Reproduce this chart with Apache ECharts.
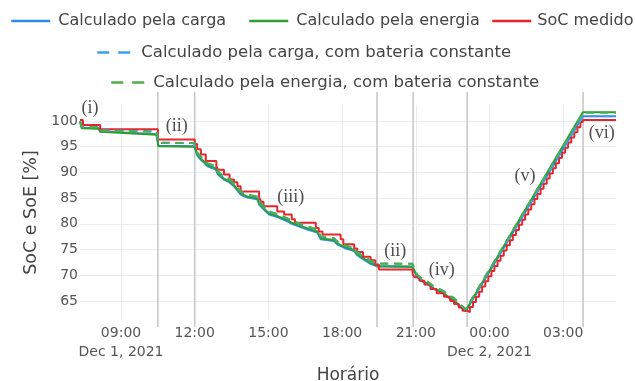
<!DOCTYPE html>
<html><head><meta charset="utf-8">
<script src="https://cdn.jsdelivr.net/npm/echarts@6/dist/echarts.min.js"></script>
<style>html,body{margin:0;padding:0;background:#fff}#c{width:635px;height:381px}</style>
</head><body><div id="c"></div>
<script>
// Time values are hours counted from Dec 1, 2021 00:00
const seriesNames = [
  'Calculado pela carga',
  'Calculado pela energia',
  'SoC medido',
  'Calculado pela carga, com bateria constante',
  'Calculado pela energia, com bateria constante'
];
const xTickValues = [9, 12, 15, 18, 21, 24, 27];
const xTickLabels = ['09:00\nDec 1, 2021', '12:00', '15:00', '18:00', '21:00', '00:00\nDec 2, 2021', '03:00'];
const yTickValues = [65, 70, 75, 80, 85, 90, 95, 100];
const phaseBoundaries = [10.5, 12.0, 19.42, 20.89, 23.09, 27.81];
const annotations = [
  ['(i)', 7.74, 102.47], ['(ii)', 11.27, 98.9], ['(iii)', 15.91, 85.16],
  ['(ii)', 20.16, 74.57], ['(iv)', 22.06, 71.0], ['(v)', 25.45, 89.16], ['(vi)', 28.57, 97.6]
];

const socMedido = [
  [7.33,100.2],[7.45,99.2],[8.15,98.4],[10.5,96.4],[12.0,95.5],[12.1,94.5],[12.25,93.5],[12.45,92.2],
  [12.88,91.2],[12.95,90.5],[13.19,89.6],[13.42,88.6],[13.6,88.1],[13.74,87.3],[13.87,86.3],[14.62,85.2],
  [14.7,84.3],[14.8,83.4],[15.36,82.4],[15.64,81.8],[15.95,80.9],[16.08,80.2],[16.93,79.2],[17.05,78.5],
  [17.2,77.9],[17.94,77.0],[18.05,76.0],[18.49,75.2],[18.62,74.5],[18.85,73.6],[19.16,72.9],[19.35,72.1],
  [19.5,71.1],[20.87,70.2],[20.95,69.6],[21.15,68.9],[21.35,68.2],[21.6,67.3],[21.85,66.5],[22.15,65.8],
  [22.4,65.0],[22.56,64.4],[22.75,63.7],[22.9,63.1],[23.08,62.8],
  [23.2,63.8],[23.33,64.8],[23.45,65.8],[23.58,66.8],[23.7,67.8],[23.83,68.8],[23.95,69.8],[24.08,70.8],
  [24.2,71.8],[24.33,72.8],[24.45,73.8],[24.58,74.8],[24.7,75.8],[24.83,76.8],[24.95,77.8],[25.08,78.8],
  [25.2,79.8],[25.33,80.8],[25.45,81.8],[25.58,82.8],[25.7,83.8],[25.83,84.8],[25.95,85.8],[26.08,86.8],
  [26.2,87.8],[26.33,88.8],[26.45,89.8],[26.58,90.8],[26.7,91.8],[26.83,92.8],[26.95,93.8],[27.08,94.8],
  [27.2,95.8],[27.33,96.8],[27.45,97.8],[27.58,98.8],[27.7,99.8],[27.8,100.2],[29.15,100.2]
];
const energiaCalc = [
  [7.33,100.0],[7.40,98.6],[8.1,98.5],[8.15,97.9],[10.45,97.3],[10.52,95.1],[11.98,95.0],[12.04,94.4],
  [12.1,93.5],[12.24,92.7],[12.4,92.0],[12.52,91.4],[12.85,90.8],[12.95,89.8],[13.19,88.8],[13.4,88.3],
  [13.6,87.5],[13.75,86.6],[13.87,85.9],[14.14,85.3],[14.55,84.95],[14.62,84.0],[14.75,83.3],[14.9,82.6],
  [15.03,82.0],[15.37,81.5],[15.77,80.7],[15.95,80.2],[16.18,79.8],[16.59,79.1],[16.99,78.5],[17.13,77.2],
  [17.67,76.85],[17.8,76.2],[18.08,75.55],[18.49,74.9],[18.6,74.2],[18.76,73.6],[19.0,72.9],[19.16,72.4],
  [19.44,71.8],[20.86,71.7],[21.06,69.7],[21.33,68.7],[21.5,68.3],[21.74,67.4],[22.15,66.5],[22.3,65.8],
  [22.56,65.2],[22.7,64.4],[22.83,63.9],[23.03,63.1],[23.08,62.9],[27.8,101.7],[29.15,101.7]
];
const cargaCalc = [
  [7.33,100.0],[7.40,98.7],[8.1,98.6],[8.15,98.0],[10.45,97.4],[10.52,95.2],[11.98,95.1],[12.04,94.3],
  [12.1,93.3],[12.24,92.5],[12.4,91.8],[12.52,91.2],[12.85,90.6],[12.95,89.6],[13.19,88.6],[13.4,88.1],
  [13.6,87.3],[13.75,86.4],[13.87,85.7],[14.14,85.1],[14.55,84.75],[14.62,83.8],[14.75,83.1],[14.9,82.4],
  [15.03,81.8],[15.37,81.3],[15.77,80.5],[15.95,80.0],[16.18,79.6],[16.59,78.9],[16.99,78.3],[17.13,77.0],
  [17.67,76.65],[17.8,76.0],[18.08,75.35],[18.49,74.7],[18.6,74.0],[18.76,73.4],[19.0,72.7],[19.16,72.2],
  [19.44,71.7],[20.86,71.6],[21.06,69.6],[21.33,68.6],[21.5,68.2],[21.74,67.3],[22.15,66.4],[22.3,65.7],
  [22.56,65.1],[22.7,64.3],[22.83,63.8],[23.03,63.0],[23.08,62.8],[27.8,100.9],[29.15,100.9]
];
const cargaConst = [
  [7.33,100.0],[7.40,98.9],[8.1,98.8],[8.15,98.2],[10.45,98.0],[10.52,95.8],[11.98,95.7],[12.04,94.7],
  [12.1,93.8],[12.24,93.0],[12.4,92.3],[12.52,91.7],[12.85,91.1],[12.95,90.1],[13.19,89.1],[13.4,88.6],
  [13.6,87.8],[13.75,86.9],[13.87,86.2],[14.14,85.6],[14.55,85.25],[14.62,84.3],[14.75,83.6],[14.9,82.9],
  [15.03,82.3],[15.37,81.8],[15.77,81.0],[15.95,80.5],[16.18,80.1],[16.59,79.4],[16.99,78.8],[17.13,77.5],
  [17.67,77.15],[17.8,76.5],[18.08,75.85],[18.49,75.2],[18.6,74.5],[18.76,73.9],[19.0,73.2],[19.16,72.7],
  [19.44,72.2],[20.86,72.2],[21.06,70.0],[21.33,69.0],[21.5,68.6],[21.74,67.7],[22.15,66.8],[22.3,66.1],
  [22.56,65.5],[22.7,64.7],[22.83,64.2],[23.03,63.3],[23.08,63.1],[27.8,100.9],[29.15,100.9]
];
const energiaConst = [
  [7.33,100.0],[7.40,98.8],[8.1,98.8],[8.15,98.1],[10.45,97.9],[10.52,95.7],[11.98,95.7],[12.04,94.8],
  [12.1,93.9],[12.24,93.1],[12.4,92.4],[12.52,91.8],[12.85,91.2],[12.95,90.2],[13.19,89.2],[13.4,88.7],
  [13.6,87.9],[13.75,87.0],[13.87,86.3],[14.14,85.7],[14.55,85.3],[14.62,84.4],[14.75,83.7],[14.9,83.0],
  [15.03,82.4],[15.37,81.9],[15.77,81.1],[15.95,80.6],[16.18,80.2],[16.59,79.5],[16.99,78.9],[17.13,77.6],
  [17.67,77.2],[17.8,76.6],[18.08,75.9],[18.49,75.3],[18.6,74.6],[18.76,74.0],[19.0,73.3],[19.16,72.8],
  [19.44,72.3],[20.86,72.2],[21.06,70.1],[21.33,69.1],[21.5,68.7],[21.74,67.8],[22.15,66.9],[22.3,66.2],
  [22.56,65.6],[22.7,64.8],[22.83,64.3],[23.03,63.4],[23.08,63.1],[27.8,101.6],[29.15,101.6]
];

const X_MIN = 7.33, X_MAX = 29.15, Y_MIN = 61.28, Y_MAX = 103.11;
const FONT = 'DejaVu Sans';
const colors = ['#2e8be6', '#2ca02c', '#e5262a', '#3aa2f0', '#4cae4c'];

const chart = echarts.init(document.getElementById('c'), null, {renderer: 'canvas'});

function legendFor(i, left, top, dashed, fontSize, gap) {
  return {
    data: [seriesNames[i]], left: left, top: top, padding: 0, itemGap: 0,
    itemWidth: dashed ? 34 : 39, itemHeight: 14,
    itemStyle: {opacity: 0},
    lineStyle: {width: 2.5, type: dashed ? [12, 9] : 'solid'},
    textStyle: {fontFamily: FONT, fontSize: fontSize, color: '#444', lineHeight: 16, padding: [0, 0, 0, gap]},
    selectedMode: false
  };
}

const lineSeries = [cargaCalc, energiaCalc, socMedido, cargaConst, energiaConst].map((d, i) => ({
  name: seriesNames[i], type: 'line', data: d, symbol: 'none', showSymbol: false,
  step: i === 2 ? 'end' : false,
  lineStyle: {color: colors[i], width: 2, type: i >= 3 ? [8, 6] : 'solid'},
  itemStyle: {color: colors[i]},
  silent: true, z: 3 + i
}));

chart.setOption({
  animation: false,
  backgroundColor: '#fff',
  grid: {left: 80, right: 19, top: 105, bottom: 61, containLabel: false, outerBoundsMode: 'none'},
  legend: [
    legendFor(0, 10, 13, false, 16, 3),
    legendFor(1, 248, 13, false, 16, 3),
    legendFor(2, 491, 13, false, 16, 1),
    legendFor(3, 96, 44, true, 16.5, 5),
    legendFor(4, 110, 74, true, 16.5, 3)
  ],
  xAxis: {
    type: 'value', min: X_MIN, max: X_MAX,
    name: 'Horário', nameLocation: 'middle', nameGap: 44,
    nameTextStyle: {fontFamily: FONT, fontSize: 17, color: '#444'},
    axisLine: {show: false},
    axisTick: {show: false, customValues: xTickValues},
    axisLabel: {
      customValues: xTickValues, fontFamily: FONT, fontSize: 14, color: '#555', lineHeight: 19, margin: 4,
      formatter: v => { const k = xTickValues.findIndex(t => Math.abs(t - v) < 1e-6); return k >= 0 ? xTickLabels[k] : ''; }
    },
    splitLine: {show: true, lineStyle: {color: '#e9edf3', width: 1}}
  },
  yAxis: {
    type: 'value', min: Y_MIN, max: Y_MAX,
    name: 'SoC e SoE [%]', nameLocation: 'middle', nameGap: 34,
    nameTextStyle: {fontFamily: FONT, fontSize: 17.5, color: '#444'},
    axisLine: {show: false},
    axisTick: {show: false, customValues: yTickValues},
    axisLabel: {customValues: yTickValues, fontFamily: FONT, fontSize: 14, color: '#555', margin: 2},
    splitLine: {show: true, lineStyle: {color: '#e9edf3', width: 1}}
  },
  series: [
    {
      type: 'custom', coordinateSystem: 'cartesian2d', clip: false, silent: true, z: 1,
      data: phaseBoundaries.map(t => [t, Y_MIN]),
      encode: {x: 0, y: 1},
      renderItem: (params, api) => {
        const t = api.value(0);
        const top = api.coord([t, Y_MAX]);
        const bot = api.coord([t, Y_MIN]);
        return {type: 'line', shape: {x1: top[0], y1: top[1] - 13, x2: bot[0], y2: bot[1] + 7},
                style: {stroke: '#c6c6c6', lineWidth: 1.5}};
      }
    },
    ...lineSeries,
    {
      type: 'scatter', silent: true, z: 20, symbolSize: 1, itemStyle: {color: 'rgba(0,0,0,0)'},
      data: annotations.map(a => ({name: a[0], value: [a[1], a[2]]})),
      label: {show: true, position: 'inside', formatter: p => p.name,
              fontFamily: 'Liberation Serif', fontSize: 18, color: '#222'}
    }
  ]
});
</script>
</body></html>
